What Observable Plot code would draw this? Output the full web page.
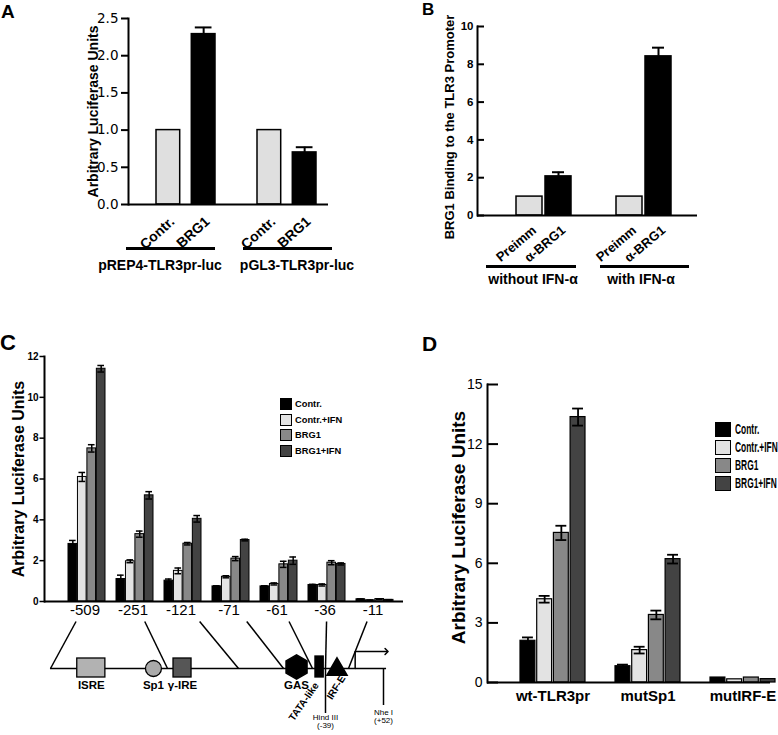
<!DOCTYPE html>
<html>
<head>
<meta charset="utf-8">
<script src="https://cdn.jsdelivr.net/npm/d3@7"></script>
<script src="https://cdn.jsdelivr.net/npm/@observablehq/plot@0.6"></script>
<style>
html,body{margin:0;padding:0;background:#fff;}
#root{position:relative;width:778px;height:735px;overflow:hidden;background:#fff;font-family:"Liberation Sans",Arial,sans-serif;color:#000;}
.letter{position:absolute;font-weight:bold;line-height:1;}
.lg-row{position:absolute;display:flex;align-items:center;white-space:nowrap;font-weight:bold;font-family:"Liberation Sans",Arial,sans-serif;}
.lg-sw{box-sizing:border-box;border:1px solid #000;flex:none;}
</style>
</head>
<body>
<div id="root"></div>
<script>
// ---------------- DATA ----------------
// Panel A
const groupsA = ["pREP4-TLR3pr-luc", "pGL3-TLR3pr-luc"];
const condsA = ["Contr.", "BRG1"];
const valuesA = [[1.0, 2.29], [1.0, 0.70]];
const errorsA = [[0, 0.09], [0, 0.07]];
const ticksA = [0, 0.5, 1.0, 1.5, 2.0, 2.5];
const titleA = "Arbitrary Luciferase Units";

// Panel B
const groupsB = ["without IFN-α", "with IFN-α"];
const condsB = ["Preimm", "α-BRG1"];
const valuesB = [[1.0, 2.07], [1.0, 8.42]];
const errorsB = [[0, 0.22], [0, 0.46]];
const ticksB = [0, 2, 4, 6, 8, 10];
const titleB = "BRG1 Binding to the TLR3 Promoter";

// Panel C
const fragmentsC = ["-509", "-251", "-121", "-71", "-61", "-36", "-11"];
const seriesCD = ["Contr.", "Contr.+IFN", "BRG1", "BRG1+IFN"];
const valuesC = [
  [2.82, 6.10, 7.50, 11.40],
  [1.10, 1.97, 3.30, 5.20],
  [1.02, 1.50, 2.83, 4.05],
  [0.74, 1.21, 2.10, 3.01],
  [0.74, 0.86, 1.82, 2.00],
  [0.81, 0.81, 1.90, 1.84],
  [0.11, 0.06, 0.12, 0.08]
];
const errorsC = [
  [0.17, 0.22, 0.18, 0.16],
  [0.19, 0.07, 0.15, 0.18],
  [0.08, 0.14, 0.06, 0.16],
  [0.03, 0.05, 0.10, 0.04],
  [0.03, 0.05, 0.15, 0.18],
  [0.03, 0.05, 0.10, 0.05],
  [0.01, 0.01, 0.01, 0.01]
];
const ticksC = [0, 2, 4, 6, 8, 10, 12];
const titleC = "Arbitrary Luciferase Units";

// Panel C promoter schematic
const fragmentSiteBp = [-509, -251, -121, -71, -61, -39, -11];
const elementNames = ["ISRE", "Sp1", "γ-IRE", "GAS", "TATA-like", "IRF-E"];
const elementFromBp = [-450, -300, -240, -70, -56, -35];
const elementToBp = [-388, -264, -207, -63, -42, -15];
const elementShapes = ["box", "circle", "box", "hexagon", "box", "triangle"];
const siteNames = ["Hind III", "Nhe I"];
const siteBp = [-39, 52];
const tssBp = 1;

// Panel D
const constructsD = ["wt-TLR3pr", "mutSp1", "mutIRF-E"];
const valuesD = [
  [2.10, 4.19, 7.53, 13.36],
  [0.82, 1.63, 3.40, 6.21],
  [0.25, 0.16, 0.25, 0.17]
];
const errorsD = [
  [0.17, 0.17, 0.36, 0.43],
  [0.08, 0.17, 0.22, 0.22],
  [0, 0, 0, 0]
];
const ticksD = [0, 3, 6, 9, 12, 15];
const titleD = "Arbitrary Luciferase Units";

// ---------------- STYLE ----------------
const colorsAB = ["#dfdfdf", "#000000"];
const colorsCD = ["#000000", "#e3e3e3", "#888888", "#434343"];
const elementColors = ["#b2b2b2", "#aaaaaa", "#565656", "#000000", "#000000", "#000000"];
const SANS = "Liberation Sans, Arial, sans-serif";

const root = document.getElementById("root");
function place(el, left, top) {
  el.style.position = "absolute";
  el.style.left = left + "px";
  el.style.top = top + "px";
  root.appendChild(el);
  return el;
}
function letter(t, left, top, size) {
  const d = document.createElement("div");
  d.className = "letter";
  d.textContent = t;
  d.style.fontSize = size + "px";
  place(d, left, top);
}

// grouped bars with a band x scale over groups; series placed with insets
function buildBars(cfg) {
  const {groups, series, values, errors, width, mL, mR, S, subStep, subW, offset} = cfg;
  const n = groups.length, m = series.length;
  const R = width - mL - mR;
  const W = subStep * (m - 1) + subW;
  const pi = 1 - W / S;
  const po = (R / S - n + pi) / 2;
  const leftover = R - (S * (n - 1) + W);
  const align = Math.max(0, Math.min(1, offset / leftover));
  const rows = [];
  groups.forEach((g, gi) => series.forEach((s, si) =>
    rows.push({group: g, series: s, si, value: values[gi][si], err: errors[gi][si]})));
  const marks = [];
  const off = [];
  series.forEach((s, si) => {
    const L = si * subStep, Rr = W - si * subStep - subW;
    off.push(L + subW / 2 - W / 2);
    const data = rows.filter(d => d.si === si);
    const errData = data.filter(d => d.err > 0);
    marks.push(Plot.barY(data, {x: "group", y: "value", fill: "series", stroke: "black",
      strokeWidth: cfg.barStroke, insetLeft: L, insetRight: Rr}));
    if (errData.length) {
      marks.push(Plot.ruleX(errData, {x: "group", y1: d => d.value - (cfg.lowerErr ? d.err : 0),
        y2: d => d.value + d.err, dx: off[si], stroke: "black", strokeWidth: cfg.errStroke}));
      marks.push(Plot.tickY(errData, {x: "group", y: d => d.value + d.err,
        insetLeft: L + cfg.capInset, insetRight: Rr + cfg.capInset, stroke: "black", strokeWidth: cfg.errStroke}));
      if (cfg.lowerErr) marks.push(Plot.tickY(errData, {x: "group", y: d => d.value - d.err,
        insetLeft: L + cfg.capInset, insetRight: Rr + cfg.capInset, stroke: "black", strokeWidth: cfg.errStroke}));
    }
  });
  return {rows, marks, off, R,
    x: {type: "band", domain: groups, paddingInner: pi, paddingOuter: po, align, axis: null}};
}
const baseStyle = {background: "transparent", overflow: "visible", fontFamily: SANS, color: "black"};
const yTitle = (t, opts) => Plot.text([t], {frameAnchor: "left", text: d => d, rotate: -90,
  textAnchor: "middle", lineAnchor: "middle", fontWeight: "bold", ...opts});

// ---------------- PANEL A ----------------
try {
  const a = buildBars({groups: groupsA, series: condsA, values: valuesA, errors: errorsA,
    width: 390, mL: 128, mR: 62, S: 101, subStep: 35.3, subW: 23.5, offset: 28,
    barStroke: 1.5, errStroke: 2, capInset: 3.5, lowerErr: false});
  const plotA = Plot.plot({
    width: 390, height: 300, marginLeft: 128, marginRight: 62, marginTop: 18, marginBottom: 96,
    x: a.x, y: {domain: [0, 2.5], axis: null}, color: {domain: condsA, range: colorsAB},
    style: baseStyle,
    marks: [
      ...a.marks,
      Plot.ruleY([0], {strokeWidth: 2}),
      Plot.frame({anchor: "left", strokeWidth: 2}),
      Plot.axisY({ticks: ticksA, tickSize: 7, tickPadding: 3, tickFormat: d3.format(".1f"), label: null,
        fontFamily: "DejaVu Sans, sans-serif", fontSize: 13.5, strokeWidth: 2}),
      ...condsA.map((c, si) => Plot.text(a.rows.filter(d => d.si === si), {x: "group", y: () => 0,
        text: "series", rotate: -42, textAnchor: "end", dx: a.off[si] + 4, dy: 15,
        fontWeight: "bold", fontSize: 14})),
      Plot.tickY([groupsA[0]], {x: d => d, y: () => 0, dy: 44, insetLeft: -30, insetRight: 0, strokeWidth: 3}),
      Plot.tickY([groupsA[1]], {x: d => d, y: () => 0, dy: 44, insetLeft: -14, insetRight: -16, strokeWidth: 3}),
      Plot.text([groupsA[0]], {x: d => d, y: () => 0, text: d => d, dy: 61, dx: -26, fontWeight: "bold", fontSize: 14}),
      Plot.text([groupsA[1]], {x: d => d, y: () => 0, text: d => d, dy: 61, dx: 10, fontWeight: "bold", fontSize: 14}),
      yTitle(titleA, {dx: -35, fontSize: 14})
    ]
  });
  place(plotA, 0, 0);
} catch (e) { console.error("A", e); }
letter("A", 1, 2, 19);

// ---------------- PANEL B ----------------
try {
  const b = buildBars({groups: groupsB, series: condsB, values: valuesB, errors: errorsB,
    width: 388, mL: 87, mR: 81, S: 101, subStep: 29, subW: 27, offset: 38.3,
    barStroke: 1.5, errStroke: 2, capInset: 7, lowerErr: false});
  const plotB = Plot.plot({
    width: 388, height: 300, marginLeft: 87, marginRight: 81, marginTop: 26, marginBottom: 85,
    x: b.x, y: {domain: [0, 10], axis: null}, color: {domain: condsB, range: colorsAB},
    style: baseStyle,
    marks: [
      ...b.marks,
      Plot.ruleY([0], {strokeWidth: 2}),
      Plot.frame({anchor: "left", strokeWidth: 2}),
      Plot.tickY(ticksB, {y: d => d, insetRight: b.R - 7, strokeWidth: 2}),
      Plot.axisY({ticks: ticksB, tickSize: 0, tickPadding: 4, label: null,
        fontWeight: "bold", fontSize: 11.5}),
      ...condsB.map((c, si) => Plot.text(b.rows.filter(d => d.si === si), {x: "group", y: () => 0,
        text: "series", rotate: -40, textAnchor: "end", dx: b.off[si] + 5, dy: 13,
        fontWeight: "bold", fontSize: 13})),
      Plot.tickY([groupsB[0]], {x: d => d, y: () => 0, dy: 51, insetLeft: -30, insetRight: -5, strokeWidth: 3}),
      Plot.tickY([groupsB[1]], {x: d => d, y: () => 0, dy: 51, insetLeft: -16, insetRight: -18, strokeWidth: 3}),
      Plot.text([groupsB[0]], {x: d => d, y: () => 0, text: d => d, dy: 64, dx: -11, fontWeight: "bold", fontSize: 14}),
      Plot.text([groupsB[1]], {x: d => d, y: () => 0, text: d => d, dy: 64, dx: -3, fontWeight: "bold", fontSize: 14}),
      yTitle(titleB, {dx: -28, dy: 6, fontSize: 13})
    ]
  });
  place(plotB, 390, 0);
} catch (e) { console.error("B", e); }
letter("B", 422, 1, 17);

// ---------------- PANEL C ----------------
let plotC = null;
try {
  const c = buildBars({groups: fragmentsC, series: seriesCD, values: valuesC, errors: errorsC,
    width: 420, mL: 44, mR: 17, S: 48.3, subStep: 9.45, subW: 8.6, offset: 22.8,
    barStroke: 1, errStroke: 1.5, capInset: 1, lowerErr: true});
  plotC = Plot.plot({
    width: 420, height: 300, marginLeft: 44, marginRight: 17, marginTop: 26, marginBottom: 29,
    x: c.x, y: {domain: [0, 12], axis: null}, color: {domain: seriesCD, range: colorsCD},
    style: baseStyle,
    marks: [
      ...c.marks,
      Plot.ruleY([0], {strokeWidth: 2}),
      Plot.frame({anchor: "left", strokeWidth: 2}),
      Plot.axisY({ticks: ticksC, tickSize: 4.5, tickPadding: 1.5, label: null,
        fontWeight: "bold", fontSize: 10, strokeWidth: 1.5}),
      Plot.axisX({tickSize: 0, tickPadding: 3, label: null, fontSize: 15, dx: -2}),
      yTitle(titleC, {dx: -26, fontSize: 16})
    ]
  });
  place(plotC, 0, 330);
} catch (e) { console.error("C", e); }
letter("C", 0, 332, 22);

// legend C
seriesCD.forEach((s, i) => {
  const row = document.createElement("div");
  row.className = "lg-row";
  row.style.fontSize = "9.3px";
  const sw = document.createElement("div");
  sw.className = "lg-sw";
  sw.style.width = "12px"; sw.style.height = "12px"; sw.style.background = colorsCD[i];
  const t = document.createElement("span");
  t.textContent = s; t.style.marginLeft = "3px";
  row.append(sw, t);
  place(row, 280, 398 + i * 15.7);
});

// ---------------- PROMOTER SCHEMATIC ----------------
try {
  const bpKnots = [...fragmentSiteBp, siteBp[1]];
  const pxKnots = [50, 167, 238, 283, 312, 325, 348, 383];
  const diagX = Plot.scale({x: {type: "linear", domain: bpKnots, range: pxKnots}});
  const sx = plotC.scale("x");
  const bw = typeof sx.bandwidth === "function" ? sx.bandwidth() : sx.bandwidth;
  const connectors = fragmentsC.map((f, i) => {
    const labelPx = sx.apply(f) + bw / 2;
    const bottomPx = diagX.apply(fragmentSiteBp[i]);
    return {fragment: f, top: diagX.invert(labelPx + 0.3 * (bottomPx - labelPx)), bottom: fragmentSiteBp[i]};
  });
  const elements = elementNames.map((name, i) => ({name, from: elementFromBp[i], to: elementToBp[i],
    mid: (elementFromBp[i] + elementToBp[i]) / 2, shape: elementShapes[i]}));
  const sites = siteNames.map((name, i) => ({name, bp: siteBp[i], label: `${name}\n(${siteBp[i] > 0 ? "+" : ""}${siteBp[i]})`}));
  const promoterEnd = 57.5;
  const arrowPath = [{bp: tssBp, h: 0}, {bp: tssBp, h: 17}, {bp: promoterEnd, h: 17}];
  const byShape = s => elements.filter(d => d.shape === s);
  const plotDiag = Plot.plot({
    width: 420, height: 135, marginLeft: 0, marginRight: 0, marginTop: 0, marginBottom: 0,
    x: {type: "linear", domain: bpKnots, range: pxKnots, axis: null},
    y: {domain: [-67, 68], range: [135, 0], axis: null},
    color: {domain: elementNames, range: elementColors},
    style: baseStyle,
    marks: [
      Plot.ruleY([0], {x1: () => fragmentSiteBp[0], x2: () => promoterEnd, strokeWidth: 1.5}),
      Plot.link(connectors, {x1: "top", y1: () => 47, x2: "bottom", y2: () => 0, strokeWidth: 1.5}),
      Plot.ruleX([sites[0]], {x: "bp", y1: () => 0, y2: () => -45, strokeWidth: 1.5}),
      Plot.ruleX([sites[1]], {x: "bp", y1: () => 0, y2: () => -37, strokeWidth: 1.5}),
      Plot.line(arrowPath, {x: "bp", y: "h", strokeWidth: 1.5, markerEnd: "arrow"}),
      Plot.rect(byShape("box"), {x1: "from", x2: "to", y1: () => -9,
        y2: d => d.name === "TATA-like" ? 12 : 10, fill: "name", stroke: "black", strokeWidth: 1.3}),
      Plot.dot(byShape("circle"), {x: "mid", y: () => 0, r: 8, symbol: "circle", fill: "name", stroke: "black", strokeWidth: 1.3}),
      Plot.dot(byShape("hexagon"), {x: "mid", y: () => 1.5, r: 10.5, symbol: "hexagon", fill: "name", stroke: "black"}),
      Plot.dot(byShape("triangle"), {x: "mid", y: () => -1, r: 7.5, symbol: "triangle", fill: "name", stroke: "black"}),
      Plot.text(elements.filter(d => d.name !== "TATA-like" && d.name !== "IRF-E"),
        {x: "mid", y: () => -17, text: "name", fontWeight: "bold", fontSize: 11.5}),
      Plot.text(elements.filter(d => d.name === "TATA-like"), {x: "mid", y: () => -15, text: "name",
        rotate: -55, textAnchor: "end", dx: -3, fontWeight: "bold", fontSize: 10}),
      Plot.text(elements.filter(d => d.name === "IRF-E"), {x: "mid", y: () => -8, text: "name",
        rotate: -58, textAnchor: "end", dx: 6, fontWeight: "bold", fontSize: 10}),
      Plot.text([sites[0]], {x: "bp", y: () => -46, text: "label", lineAnchor: "top", lineHeight: 1.0, fontSize: 8, fill: "black"}),
      Plot.text([sites[1]], {x: "bp", y: () => -41, text: "label", lineAnchor: "top", lineHeight: 1.0, fontSize: 8, fill: "black"})
    ]
  });
  place(plotDiag, 0, 600);
} catch (e) { console.error("diagram", e); }

// ---------------- PANEL D ----------------
try {
  const dd = buildBars({groups: constructsD, series: seriesCD, values: valuesD, errors: errorsD,
    width: 358, mL: 67, mR: 0, S: 95, subStep: 16.7, subW: 14.5, offset: 32.7,
    barStroke: 1.2, errStroke: 1.8, capInset: 2, lowerErr: true});
  const plotD = Plot.plot({
    width: 358, height: 380, marginLeft: 67, marginRight: 0, marginTop: 54, marginBottom: 28,
    x: dd.x, y: {domain: [0, 15], axis: null}, color: {domain: seriesCD, range: colorsCD},
    style: baseStyle,
    marks: [
      ...dd.marks,
      Plot.ruleY([0], {insetRight: 8, strokeWidth: 2}),
      Plot.frame({anchor: "left", strokeWidth: 2}),
      Plot.tickY(ticksD, {y: d => d, insetRight: dd.R - 11, strokeWidth: 2}),
      Plot.axisY({ticks: ticksD, tickSize: 0, tickPadding: 5, label: null, fontSize: 14}),
      Plot.axisX({tickSize: 0, tickPadding: 8, label: null, fontWeight: "bold", fontSize: 15}),
      yTitle(titleD, {dx: -29, dy: -6, fontSize: 19})
    ]
  });
  place(plotD, 420, 330);
} catch (e) { console.error("D", e); }
letter("D", 422, 333, 21);

// legend D (condensed lettering)
seriesCD.forEach((s, i) => {
  const row = document.createElement("div");
  row.className = "lg-row";
  row.style.fontSize = "14px";
  const sw = document.createElement("div");
  sw.className = "lg-sw";
  sw.style.width = "16px"; sw.style.height = "15px"; sw.style.background = colorsCD[i];
  const t = document.createElement("span");
  t.textContent = s;
  t.style.marginLeft = "4px";
  t.style.display = "inline-block";
  t.style.transform = "scaleX(0.6)";
  t.style.transformOrigin = "left center";
  row.append(sw, t);
  place(row, 715, 421 + i * 18);
});
</script>
</body>
</html>
